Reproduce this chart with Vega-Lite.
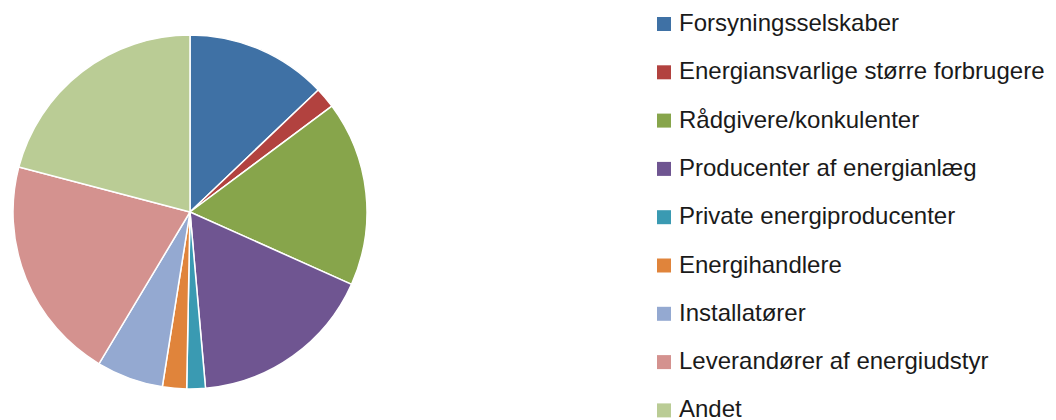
{
  "$schema": "https://vega.github.io/schema/vega-lite/v6.json",
  "width": 380,
  "height": 420,
  "padding": {"left": 0, "top": 2, "right": 0, "bottom": 0},
  "background": "white",
  "data": {
    "values": [
      {"kategori": "Forsyningsselskaber", "andel": 12.9, "orden": 1},
      {"kategori": "Energiansvarlige større forbrugere", "andel": 1.9, "orden": 2},
      {"kategori": "Rådgivere/konkulenter", "andel": 16.9, "orden": 3},
      {"kategori": "Producenter af energianlæg", "andel": 16.9, "orden": 4},
      {"kategori": "Private energiproducenter", "andel": 1.7, "orden": 5},
      {"kategori": "Energihandlere", "andel": 2.2, "orden": 6},
      {"kategori": "Installatører", "andel": 6.1, "orden": 7},
      {"kategori": "Leverandører af energiudstyr", "andel": 20.5, "orden": 8},
      {"kategori": "Andet", "andel": 20.9, "orden": 9}
    ]
  },
  "mark": {"type": "arc", "outerRadius": 177, "stroke": "white", "strokeWidth": 1.5},
  "encoding": {
    "theta": {"field": "andel", "type": "quantitative", "stack": true},
    "order": {"field": "orden", "type": "quantitative"},
    "color": {
      "field": "kategori",
      "type": "nominal",
      "scale": {
        "domain": ["Forsyningsselskaber", "Energiansvarlige større forbrugere", "Rådgivere/konkulenter", "Producenter af energianlæg", "Private energiproducenter", "Energihandlere", "Installatører", "Leverandører af energiudstyr", "Andet"],
        "range": ["#3F71A5", "#B2423F", "#87A54B", "#6F5591", "#3A9AB2", "#E0843B", "#94A9D1", "#D4928F", "#BACC95"]
      },
      "legend": {
        "title": null,
        "orient": "none",
        "legendX": 652,
        "legendY": 10,
        "padding": 0,
        "symbolType": "square",
        "symbolSize": 196,
        "symbolStrokeWidth": 0,
        "symbolOffset": 0,
        "labelFont": "Liberation Sans",
        "labelFontSize": 24,
        "labelColor": "#1a1a1a",
        "labelOffset": 3,
        "labelLimit": 500,
        "rowPadding": 24.3,
        "symbolOpacity": 1
      }
    }
  },
  "config": {"view": {"stroke": null}}
}
